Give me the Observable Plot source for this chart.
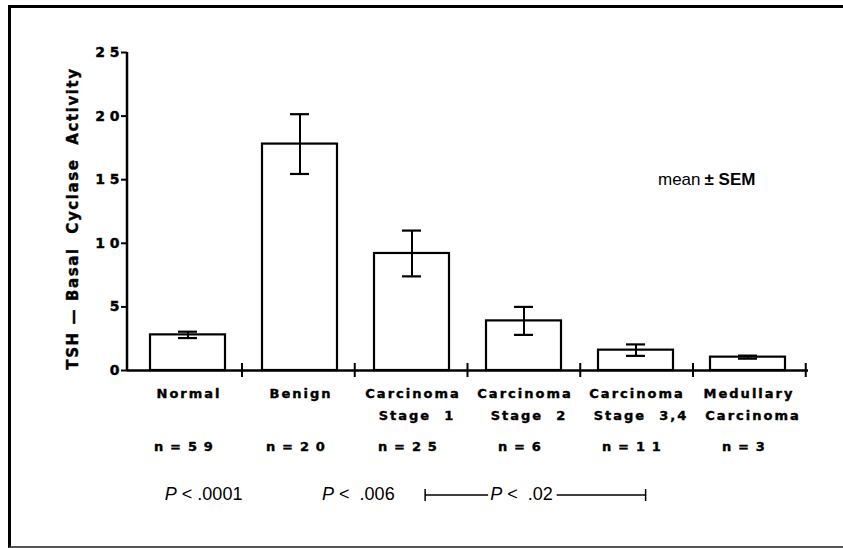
<!DOCTYPE html>
<html><head><meta charset="utf-8">
<script src="https://cdn.jsdelivr.net/npm/d3@7"></script>
<script src="https://cdn.jsdelivr.net/npm/@observablehq/plot@0.6"></script>
<style>
html,body{margin:0;padding:0;background:#fff;}
#wrap{position:relative;width:843px;height:548px;overflow:hidden;}
#chart svg{display:block;}
#frame{position:absolute;left:8px;top:5px;right:-10px;bottom:0;border-top:3px solid #000;border-left:3px solid #000;border-bottom:2px solid #555;pointer-events:none;}
svg text{white-space:pre;}
</style></head><body>
<div id="wrap"><div id="chart"></div><div id="frame"></div></div>
<script>
const categories = ["Normal","Benign","Carcinoma Stage 1","Carcinoma Stage 2","Carcinoma Stage 3,4","Medullary Carcinoma"];
const labelLine1 = ["Normal","Benign","Carcinoma","Carcinoma","Carcinoma","Medullary"];
const labelLine2 = ["","","Stage  1","Stage  2","Stage  3,4","Carcinoma"];
const means = [2.8, 17.8, 9.2, 3.9, 1.6, 1.05];
const sems = [0.25, 2.35, 1.8, 1.1, 0.45, 0.12];
const nValues = [59, 20, 25, 6, 11, 3];
const yTicks = [0, 5, 10, 15, 20, 25];
const yTickLabels = ["0", "5", "1 0", "1 5", "2 0", "2 5"];
const yLabel = "TSH — Basal  Cyclase  Activity";
const legendMean = "mean";
const legendSem = "± SEM";
const pLabels = ["< .0001", "<  .006", "<  .02"];

const data = categories.map((c, i) => ({
  cat: c, mean: means[i], sem: sems[i], l1: labelLine1[i], l2: labelLine2[i],
  n: "n = " + String(nValues[i]).split("").join(" ")
}));

const boldFont = "'DejaVu Sans', sans-serif";
const heavy = {fontWeight: "bold", fill: "black", stroke: "black", strokeWidth: 0.4};
const plot = Plot.plot({
  width: 843, height: 548,
  marginLeft: 127, marginRight: 35, marginTop: 52, marginBottom: 178,
  style: {fontFamily: boldFont, background: "transparent", color: "black", overflow: "visible"},
  x: {type: "band", domain: categories, paddingInner: 0.33, paddingOuter: 0.185, axis: null},
  y: {domain: [0, 25], axis: null},
  marks: [
    Plot.barY(data, {x: "cat", y: "mean", fill: "white", stroke: "black", strokeWidth: 2.2}),
    Plot.ruleX(data, {x: "cat", y1: d => d.mean - d.sem, y2: d => d.mean + d.sem, stroke: "black", strokeWidth: 2}),
    Plot.tickY(data, {x: "cat", y: d => d.mean - d.sem, insetLeft: 28, insetRight: 28, stroke: "black", strokeWidth: 2.2}),
    Plot.tickY(data, {x: "cat", y: d => d.mean + d.sem, insetLeft: 28, insetRight: 28, stroke: "black", strokeWidth: 2.2}),
    Plot.ruleY([0], {stroke: "black", strokeWidth: 2.5}),
    Plot.axisY({ticks: yTicks, tickFormat: d => yTickLabels[yTicks.indexOf(d)], tickSize: 6, tickPadding: 2,
      fontSize: 14, fontWeight: "bold", strokeWidth: 2, label: null}),
    Plot.text(data, {x: "cat", y: 0, text: "l1", dy: 23, dx: 1, fontSize: 13, ...heavy}),
    Plot.text(data, {x: "cat", y: 0, text: "l2", dy: 45, dx: 5, fontSize: 13, ...heavy}),
    Plot.text(data, {x: "cat", y: 0, text: "n", dy: 76, dx: -4, fontSize: 13, ...heavy}),
    Plot.text([yLabel], {text: d => d, frameAnchor: "left", textAnchor: "middle", dx: -54, dy: 7, rotate: -90,
      fontSize: 15, ...heavy}),
    Plot.text([legendMean], {text: d => d, frameAnchor: "top-right", dx: -108, dy: 120, textAnchor: "end",
      fontSize: 17, fontFamily: "'Liberation Sans', Arial, sans-serif"}),
    Plot.text([legendSem], {text: d => d, frameAnchor: "top-right", dx: -104, dy: 120, textAnchor: "start",
      fontSize: 17, fontWeight: "bold", fontFamily: "'Liberation Sans', Arial, sans-serif"})
  ]
});
document.getElementById("chart").appendChild(plot);

const svg = d3.select(plot);
// letter spacing / weight for the wide, heavy labels
const nTexts = data.map(d => d.n);
svg.selectAll("text").each(function() {
  const s = this.textContent;
  if (labelLine1.includes(s) || labelLine2.includes(s)) this.style.letterSpacing = "2px";
  else if (nTexts.includes(s)) this.style.letterSpacing = "1.2px";
  else if (s === yLabel) this.style.letterSpacing = "1.6px";
  else if (yTickLabels.includes(s)) { this.setAttribute("stroke", "black"); this.setAttribute("stroke-width", 0.4); this.setAttribute("fill", "black"); }
});

// scales from the plot
const xd = plot.scale("x");
const yd = plot.scale("y");
const xb = d3.scaleBand(xd.domain, xd.range).paddingInner(xd.paddingInner).paddingOuter(xd.paddingOuter).align(xd.align ?? 0.5);
const yl = d3.scaleLinear(yd.domain, yd.range);
const bw = xb.bandwidth(), step = xb.step();
const center = c => xb(c) + bw / 2;
const g = svg.append("g").attr("stroke", "black").attr("fill", "none");
// y axis line
g.append("line").attr("x1", 127).attr("x2", 127).attr("y1", yl(25)).attr("y2", yl(0)).attr("stroke-width", 2.5);
// x axis boundary ticks
categories.forEach(c => {
  const x = xb(c) + bw + step * xd.paddingInner / 2;
  g.append("line").attr("x1", x).attr("x2", x).attr("y1", yl(0) - 7).attr("y2", yl(0) + 7).attr("stroke-width", 2);
});
// P annotations
const pY = yl(0) + 130;
const pFont = "'Liberation Sans', Arial, sans-serif";
function pText(x, anchor, rest) {
  const t = svg.append("text").attr("x", x).attr("y", pY).attr("text-anchor", anchor)
    .attr("font-family", pFont).attr("font-size", 18).attr("fill", "black");
  t.append("tspan").attr("font-style", "italic").text("P");
  t.append("tspan").text(" " + rest);
  return t;
}
pText(center(categories[0]) + 18, "middle", pLabels[0]);
pText(center(categories[1]) + 60, "middle", pLabels[1]);
const bl = center(categories[2]) + 14, br = center(categories[4]) + 9;
const t3 = pText(bl + 65, "start", pLabels[2]);
const bb = t3.node().getBBox();
const ly = pY - 5;
g.append("line").attr("x1", bl).attr("x2", bb.x - 2).attr("y1", ly).attr("y2", ly).attr("stroke-width", 1.3);
g.append("line").attr("x1", bb.x + bb.width + 4).attr("x2", br).attr("y1", ly).attr("y2", ly).attr("stroke-width", 1.3);
g.append("line").attr("x1", bl).attr("x2", bl).attr("y1", ly - 6).attr("y2", ly + 6).attr("stroke-width", 1.5);
g.append("line").attr("x1", br).attr("x2", br).attr("y1", ly - 6).attr("y2", ly + 6).attr("stroke-width", 1.5);
</script>
</body></html>
